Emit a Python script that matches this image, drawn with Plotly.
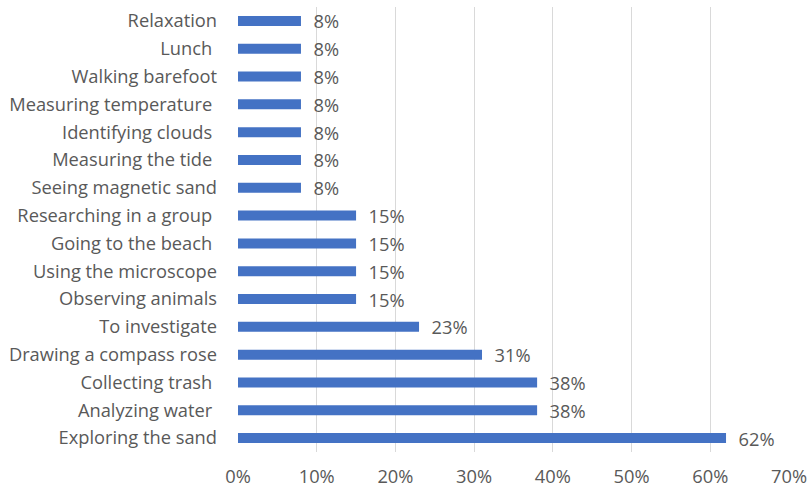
import plotly.graph_objects as go

categories = ["Exploring the sand", "Analyzing water\u00a0", "Collecting trash\u00a0", "Drawing a compass rose",
              "To investigate", "Observing animals", "Using the microscope", "Going to the beach\u00a0",
              "Researching in a group\u00a0", "Seeing magnetic sand", "Measuring the tide\u00a0",
              "Identifying clouds\u00a0", "Measuring temperature\u00a0", "Walking barefoot", "Lunch\u00a0", "Relaxation"]
values = [62, 38, 38, 31, 23, 15, 15, 15, 15, 8, 8, 8, 8, 8, 8, 8]
tick_vals = [0, 10, 20, 30, 40, 50, 60, 70]
tick_text = ["0%", "10%", "20%", "30%", "40%", "50%", "60%", "70%"]

font_family = "'Open Sans', Lato, sans-serif"
grey = "#595959"
fs = 18.3

fig = go.Figure(go.Bar(
    y=categories, x=values, orientation="h",
    marker=dict(color="#4472C4", line=dict(width=0)),
    width=0.36,
    text=["\u00a0\u00a0" + f"{v}%" for v in values],
    textposition="outside",
    constraintext="none",
    textfont=dict(family=font_family, size=fs, color=grey),
    cliponaxis=False,
))

fig.update_layout(
    width=808, height=491,
    margin=dict(l=238, r=19, t=7, b=39),
    paper_bgcolor="white", plot_bgcolor="white",
    showlegend=False,
    font=dict(family=font_family, size=fs, color=grey),
)
fig.update_xaxes(range=[0, 70], tickvals=tick_vals, ticktext=tick_text,
                 showgrid=True, gridcolor="#d9d9d9", gridwidth=1,
                 zeroline=False, showline=False, automargin=False,
                 tickfont=dict(family=font_family, size=fs, color=grey),
                 ticklabelstandoff=12)
fig.update_yaxes(categoryorder="array", categoryarray=categories,
                 showgrid=False, zeroline=False, showline=False, automargin=False,
                 tickfont=dict(family=font_family, size=fs, color=grey),
                 ticklabelstandoff=20)

fig.write_html("out.html")
